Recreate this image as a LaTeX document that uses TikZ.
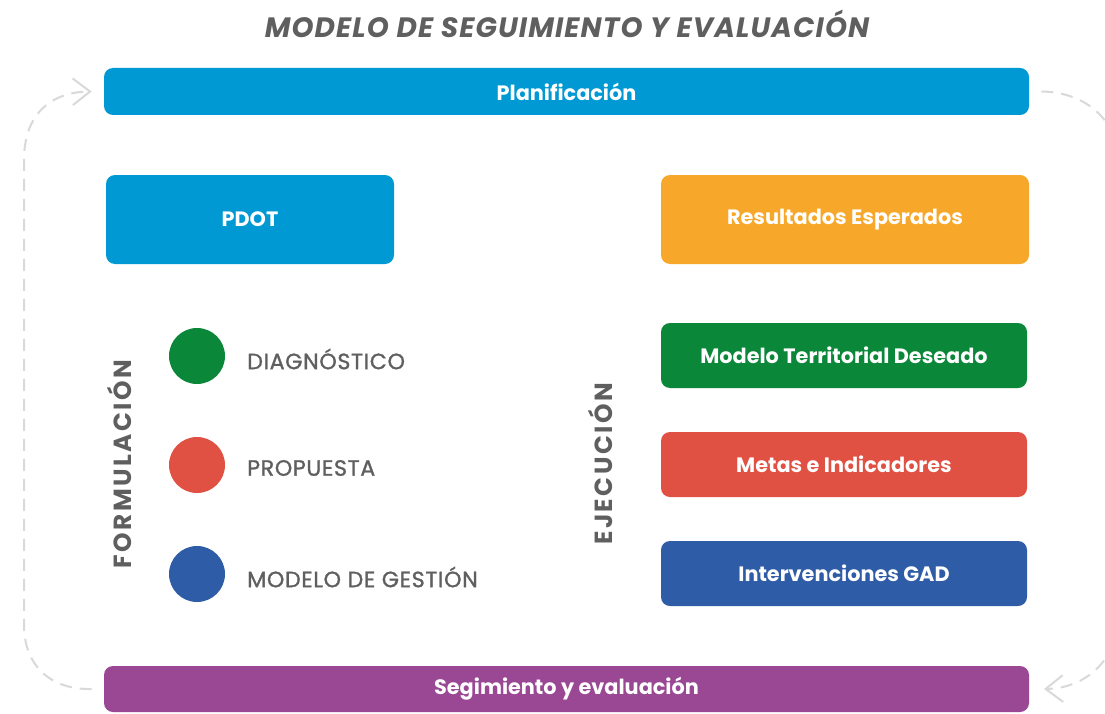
\documentclass[tikz,border=0pt]{standalone}
\usepackage{fontspec}
\setmainfont{Poppins}
\usetikzlibrary{arrows.meta}
\definecolor{cblue}{HTML}{0099D3}
\definecolor{corange}{HTML}{F7A82B}
\definecolor{cgreen}{HTML}{0A8739}
\definecolor{cred}{HTML}{E05143}
\definecolor{cnavy}{HTML}{2F5CA6}
\definecolor{cpurple}{HTML}{9A4794}
\definecolor{cgray}{HTML}{5F5F5F}
\definecolor{cdash}{HTML}{D9D9D9}
\tikzset{
  bar/.style={rounded corners=6.75pt, minimum width=693.75pt, inner sep=0pt, text=white, font=\bfseries\fontsize{15.6}{18}\selectfont},
  box/.style={rounded corners=6.75pt, minimum width=274.5pt, minimum height=48.75pt, inner sep=0pt, text=white, font=\bfseries\fontsize{15.6}{18}\selectfont},
  dot/.style={circle, minimum size=42pt, inner sep=0pt},
  lbl/.style={anchor=west, inner sep=0pt, text=cgray, font=\fontsize{16.6}{19}\selectfont\addfontfeatures{FakeBold=1.2,LetterSpace=3}},
  side/.style={rotate=90, inner sep=0pt, text=cgray, font=\bfseries\fontsize{18.6}{21}\selectfont\addfontfeatures{LetterSpace=10}},
  loopline/.style={draw=cdash, line width=1.5pt, dash pattern=on 9pt off 6pt, -{Straight Barb[length=13pt,width=20pt,line width=1.5pt]}}
}
\begin{document}
\begin{tikzpicture}[x=0.75pt,y=-0.75pt]
\clip (0,0) rectangle (1105,713);
\fill[white] (0,0) rectangle (1105,713);
\node[text=cgray, font=\bfseries\itshape\fontsize{21}{24}\selectfont\addfontfeatures{LetterSpace=4}] (title) at (567,24) {MODELO DE SEGUIMIENTO Y EVALUACIÓN};
\node[bar, fill=cblue, minimum height=35.25pt] (plan) at (566.5,91.5) {Planificación};
\node[bar, fill=cpurple, minimum height=34.5pt] (seg) at (566.5,689) {Segimiento y evaluación};
\node[box, fill=cblue, minimum width=216pt, minimum height=66.75pt] (pdot) at (250,219.5) {PDOT};
\node[box, fill=corange, minimum width=276pt, minimum height=66.75pt] (res) at (845,219.5) {Resultados Esperados};
\node[box, fill=cgreen] (mtd) at (844,355.5) {Modelo Territorial Deseado};
\node[box, fill=cred] (mei) at (844,464.5) {Metas e Indicadores};
\node[box, fill=cnavy] (gad) at (844,573.5) {Intervenciones GAD};
\node[dot, fill=cgreen] (d1) at (197,356) {};
\node[dot, fill=cred] (d2) at (197,465) {};
\node[dot, fill=cnavy] (d3) at (197,574) {};
\node[lbl] (l1) at (247,359) {DIAGNÓSTICO};
\node[lbl] (l2) at (247,468) {PROPUESTA};
\node[lbl] (l3) at (247,577) {MODELO DE GESTIÓN};
\node[side] (form) at (119,464) {FORMULACIÓN};
\node[side] (ejec) at (600,464) {EJECUCIÓN};
\draw[loopline] ([xshift=-9pt]seg.west) .. controls (50,690) and (24,665) .. (24,625) -- (24,160) .. controls (24,115) and (50,92) .. ([xshift=-9pt]plan.west);
\draw[loopline] ([xshift=9pt]plan.east) .. controls (1090,92) and (1122,125) .. (1122,175) -- (1122,600) .. controls (1122,655) and (1090,688) .. ([xshift=11pt]seg.east);
\end{tikzpicture}
\end{document}
